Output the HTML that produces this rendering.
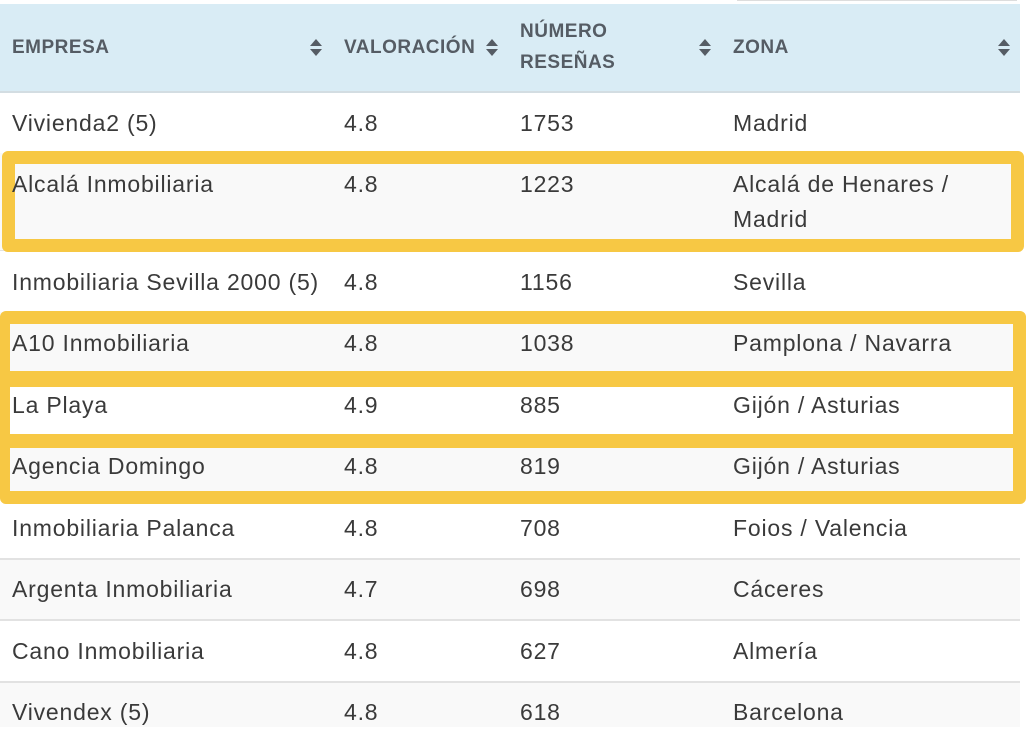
<!DOCTYPE html>
<html><head><meta charset="utf-8"><style>
body{margin:0;width:1026px;height:727px;overflow:hidden;background:#fff;position:relative;font-family:"Liberation Sans",sans-serif;color:#3a3a3a}
.a{position:absolute}
.hdr{left:0;top:4px;width:1020px;height:87px;background:#d9ecf5;border-bottom:2px solid #d3dde2}
.h{position:absolute;font-weight:bold;font-size:19px;letter-spacing:0.5px;color:#555c64;line-height:31px}
.s{position:absolute;width:0;height:0;border-left:6px solid transparent;border-right:6px solid transparent}
.row{position:absolute;left:0;width:1020px}
.t{position:absolute;font-size:23px;letter-spacing:0.8px;line-height:35px;white-space:nowrap}
.y{position:absolute;border:13px solid #f7c844;border-radius:6px;box-sizing:border-box}
</style></head><body>
<div class="a" style="left:737px;top:0;width:280px;height:1px;background:#ddd"></div>
<div class="a hdr"></div>
<div class="h" style="left:12px;top:32px">EMPRESA</div>
<div class="h" style="left:344px;top:32px">VALORACIÓN</div>
<div class="h" style="left:520px;top:16px">NÚMERO<br>RESEÑAS</div>
<div class="h" style="left:733px;top:32px">ZONA</div>

<div class="s" style="left:310px;top:39px;border-bottom:7px solid #555c64"></div><div class="s" style="left:310px;top:49px;border-top:7px solid #555c64"></div>
<div class="s" style="left:486px;top:39px;border-bottom:7px solid #555c64"></div><div class="s" style="left:486px;top:49px;border-top:7px solid #555c64"></div>
<div class="s" style="left:699px;top:39px;border-bottom:7px solid #555c64"></div><div class="s" style="left:699px;top:49px;border-top:7px solid #555c64"></div>
<div class="s" style="left:998px;top:39px;border-bottom:7px solid #555c64"></div><div class="s" style="left:998px;top:49px;border-top:7px solid #555c64"></div>

<div class="row" style="top:153px;height:97px;background:#f9f9f9"></div>
<div class="row" style="top:250px;height:1px;background:#e2e2e2"></div>
<div class="row" style="top:312px;height:61px;background:#f9f9f9"></div>
<div class="row" style="top:435px;height:62px;background:#f9f9f9"></div>
<div class="row" style="top:558px;height:2px;background:#e2e2e2"></div>
<div class="row" style="top:560px;height:60px;background:#f9f9f9"></div>
<div class="row" style="top:619px;height:2px;background:#e2e2e2"></div>
<div class="row" style="top:681px;height:2px;background:#e2e2e2"></div>
<div class="row" style="top:683px;height:44px;background:#f9f9f9"></div>

<div class="y" style="left:2px;top:151px;width:1022px;height:101px"></div>
<div class="y" style="left:0px;top:311px;width:1026px;height:193px;border-left-width:10px"></div>
<div class="a" style="left:0;top:371px;width:1026px;height:16px;background:#f7c844"></div>
<div class="a" style="left:0;top:434px;width:1026px;height:14px;background:#f7c844"></div>

<div class="t" style="left:12px;top:106px">Vivienda2 (5)</div><div class="t" style="left:344px;top:106px">4.8</div><div class="t" style="left:520px;top:106px">1753</div><div class="t" style="left:733px;top:106px">Madrid</div>
<div class="t" style="left:12px;top:167px">Alcalá Inmobiliaria</div><div class="t" style="left:344px;top:167px">4.8</div><div class="t" style="left:520px;top:167px">1223</div><div class="t" style="left:733px;top:167px">Alcalá de Henares /<br>Madrid</div>
<div class="t" style="left:12px;top:265px">Inmobiliaria Sevilla 2000 (5)</div><div class="t" style="left:344px;top:265px">4.8</div><div class="t" style="left:520px;top:265px">1156</div><div class="t" style="left:733px;top:265px">Sevilla</div>
<div class="t" style="left:12px;top:326px">A10 Inmobiliaria</div><div class="t" style="left:344px;top:326px">4.8</div><div class="t" style="left:520px;top:326px">1038</div><div class="t" style="left:733px;top:326px">Pamplona / Navarra</div>
<div class="t" style="left:12px;top:388px">La Playa</div><div class="t" style="left:344px;top:388px">4.9</div><div class="t" style="left:520px;top:388px">885</div><div class="t" style="left:733px;top:388px">Gijón / Asturias</div>
<div class="t" style="left:12px;top:449px">Agencia Domingo</div><div class="t" style="left:344px;top:449px">4.8</div><div class="t" style="left:520px;top:449px">819</div><div class="t" style="left:733px;top:449px">Gijón / Asturias</div>
<div class="t" style="left:12px;top:511px">Inmobiliaria Palanca</div><div class="t" style="left:344px;top:511px">4.8</div><div class="t" style="left:520px;top:511px">708</div><div class="t" style="left:733px;top:511px">Foios / Valencia</div>
<div class="t" style="left:12px;top:572px">Argenta Inmobiliaria</div><div class="t" style="left:344px;top:572px">4.7</div><div class="t" style="left:520px;top:572px">698</div><div class="t" style="left:733px;top:572px">Cáceres</div>
<div class="t" style="left:12px;top:634px">Cano Inmobiliaria</div><div class="t" style="left:344px;top:634px">4.8</div><div class="t" style="left:520px;top:634px">627</div><div class="t" style="left:733px;top:634px">Almería</div>
<div class="t" style="left:12px;top:695px">Vivendex (5)</div><div class="t" style="left:344px;top:695px">4.8</div><div class="t" style="left:520px;top:695px">618</div><div class="t" style="left:733px;top:695px">Barcelona</div>
</body></html>
